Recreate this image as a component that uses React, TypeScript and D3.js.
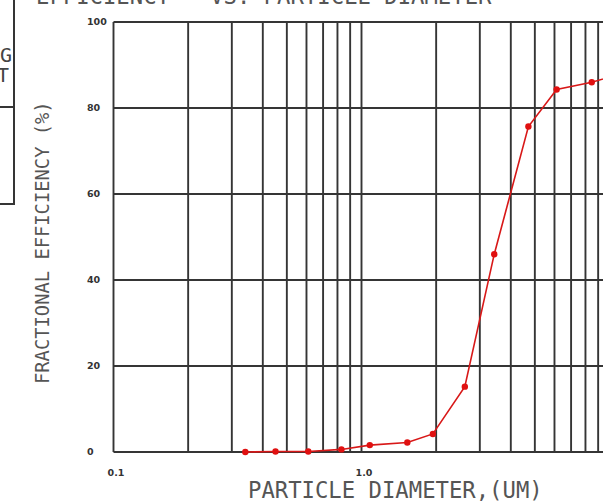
import React from "react";
import * as d3 from "d3";

const diameters = [0.34, 0.45, 0.61, 0.83, 1.08, 1.53, 1.94, 2.61, 3.43, 4.71, 6.12, 8.48, 12.0];
const efficiency = [0.0, 0.1, 0.1, 0.6, 1.6, 2.2, 4.2, 15.2, 46.0, 75.7, 84.3, 86.0, 88.5];
const yTicks = [0, 20, 40, 60, 80, 100];
const xLabelTicks = [0.1, 1.0];
const xLabelText = ["0.1", "1.0"];

const W = 603;
const H = 504;
const GRID = "#353535";
const MONO = "'DejaVu Sans Mono', monospace";

export default function App() {
  const x = d3.scaleLog().domain([0.1, 10]).range([113.5, 113.5 + 2 * 248]);
  const y = d3.scaleLinear().domain([0, 100]).range([452, 22]);

  const xGrid: number[] = [];
  for (const dec of [0.1, 1]) {
    for (let k = 1; k <= 9; k++) xGrid.push(dec * k);
  }
  xGrid.push(10);

  const pts = diameters.map((d, i) => [d, efficiency[i]] as [number, number]);
  const line = d3
    .line<[number, number]>()
    .x((d) => x(d[0]))
    .y((d) => y(d[1]))(pts);

  return (
    <svg
      width={W}
      height={H}
      viewBox={`0 0 ${W} ${H}`}
      style={{ position: "absolute", left: 0, top: 0, background: "#fff" }}
    >
      <rect x={0} y={0} width={W} height={H} fill="#fff" />
      {/* title (cropped at top) */}
      <text
        x={36}
        y={3.5}
        fontFamily={MONO}
        fontSize={22.25}
        fill="#555"
        style={{ whiteSpace: "pre" }}
      >
        {"EFFICIENCY   VS. PARTICLE DIAMETER"}
      </text>

      {/* left box fragment */}
      <g stroke={GRID} strokeWidth={2} fill="none">
        <line x1={14} y1={0} x2={14} y2={205} />
        <line x1={0} y1={107} x2={14} y2={107} />
        <line x1={0} y1={204} x2={14} y2={204} />
      </g>
      <text x={0} y={62} fontFamily={MONO} fontSize={20} fill="#444">G</text>
      <text x={-3} y={82} fontFamily={MONO} fontSize={20} fill="#444">T</text>

      {/* grid */}
      <g stroke={GRID} strokeWidth={1.9}>
        {xGrid.map((v, i) => (
          <line key={"vx" + i} x1={x(v)} x2={x(v)} y1={y(100)} y2={y(0)} />
        ))}
        {yTicks.map((v) => (
          <line key={"hy" + v} x1={x(0.1)} x2={x(10)} y1={y(v)} y2={y(v)} />
        ))}
      </g>

      {/* y tick labels */}
      {yTicks.map((v) => (
        <text
          key={"yl" + v}
          x={87}
          y={y(v) + 2.5}
          fontFamily="'DejaVu Sans', sans-serif"
          fontWeight="bold"
          fontSize={9.5}
          fill="#333"
        >
          {String(v)}
        </text>
      ))}

      {/* x tick labels */}
      {xLabelTicks.map((v, i) => (
        <text
          key={"xl" + i}
          x={x(v) + 2.5}
          y={475.5}
          textAnchor="middle"
          fontFamily="'DejaVu Sans', sans-serif"
          fontWeight="bold"
          fontSize={9.5}
          fill="#333"
        >
          {xLabelText[i]}
        </text>
      ))}

      {/* axis titles */}
      <text x={248} y={498} fontFamily={MONO} fontSize={22.25} fill="#555">
        PARTICLE DIAMETER,(UM)
      </text>
      <text
        transform="translate(49,384) rotate(-90)"
        x={0}
        y={0}
        fontFamily={MONO}
        fontSize={18.8}
        fill="#555"
      >
        FRACTIONAL EFFICIENCY (%)
      </text>

      {/* data */}
      <path d={line || ""} fill="none" stroke="#d81818" strokeWidth={1.6} />
      {pts.map((p, i) => (
        <circle key={"pt" + i} cx={x(p[0])} cy={y(p[1])} r={3.2} fill="#e01010" />
      ))}
    </svg>
  );
}
